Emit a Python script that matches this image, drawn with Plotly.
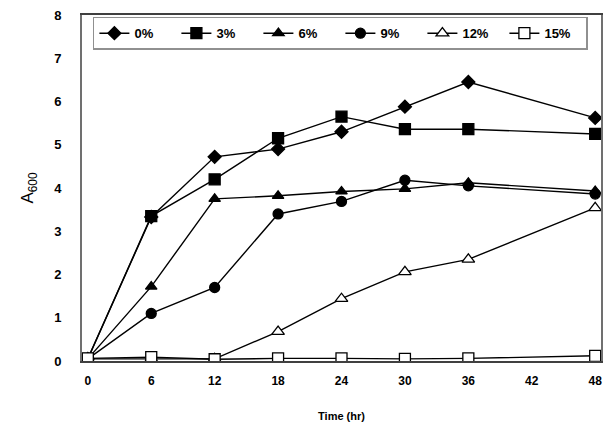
import plotly.graph_objects as go

time_hr = [0, 6, 12, 18, 24, 30, 36, 48]
series_names = ["0%", "3%", "6%", "9%", "12%", "15%"]
a0 = [0.05, 3.33, 4.72, 4.9, 5.3, 5.88, 6.45, 5.62]
a3 = [0.05, 3.35, 4.2, 5.15, 5.65, 5.36, 5.36, 5.25]
a6 = [0.05, 1.72, 3.75, 3.82, 3.92, 3.98, 4.12, 3.93]
a9 = [0.05, 1.1, 1.7, 3.4, 3.69, 4.18, 4.05, 3.86]
a12 = [0.05, 0.05, 0.05, 0.68, 1.44, 2.06, 2.35, 3.54]
a15 = [0.06, 0.09, 0.04, 0.06, 0.06, 0.05, 0.06, 0.12]

values = [a0, a3, a6, a9, a12, a15]
symbols = ["diamond", "square", "triangle-up", "circle", "triangle-up", "square"]
fills = ["black", "black", "black", "black", "white", "white"]
sizes = [10, 11, 10, 10, 11, 11]

fig = go.Figure()
for name, vals, sym, fill, sz in zip(series_names, values, symbols, fills, sizes):
    fig.add_trace(go.Scatter(
        x=time_hr, y=vals, name=name, mode="lines+markers",
        line=dict(color="black", width=1.4),
        marker=dict(symbol=sym, size=sz, color=fill,
                    line=dict(color="black", width=1.3)),
    ))

fig.update_layout(
    width=611, height=436,
    margin=dict(l=82, r=8, t=9, b=75),
    paper_bgcolor="white", plot_bgcolor="white",
    font=dict(family="Liberation Sans, Arial, sans-serif", color="black"),
    legend=dict(
        orientation="h", x=0.021, y=0.995, xanchor="left", yanchor="top",
        bgcolor="white", bordercolor="#909090", borderwidth=1.5,
        font=dict(size=13, family="Liberation Sans, Arial, sans-serif", weight="bold"),
        entrywidth=37, entrywidthmode="pixels", itemwidth=30,
    ),
    xaxis=dict(
        range=[-0.55, 48.55], tickmode="array", tickvals=[0, 6, 12, 18, 24, 30, 36, 42, 48],
        showgrid=False, zeroline=False, showline=True, linecolor="#404040", linewidth=2,
        mirror=True, ticks="", ticklen=0, ticklabelstandoff=8,
        tickfont=dict(size=12, weight="bold"),
        title=dict(text="Time (hr)", font=dict(size=11, weight="bold"), standoff=25),
    ),
    yaxis=dict(
        range=[0, 8], dtick=1, showgrid=False, zeroline=False, showline=True,
        linecolor="#707070", linewidth=2, mirror=True, ticks="", ticklabelstandoff=16,
        tickfont=dict(size=13, weight="bold"),
        title=dict(text="A<sub>600</sub>", font=dict(size=17), standoff=16),
    ),
)

fig.write_html("out.html")
